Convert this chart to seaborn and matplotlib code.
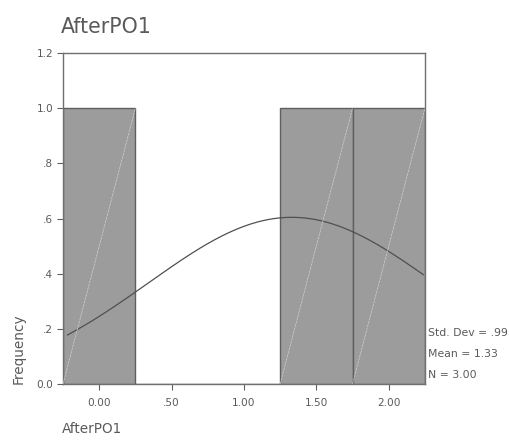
import numpy as np
import pandas as pd
import seaborn as sns
import matplotlib
matplotlib.use("Agg")
import matplotlib.pyplot as plt

# Scores for AfterPO1 (three cases)
values = [0.0, 1.5, 2.0]
bin_edges = [-0.25, 0.25, 0.75, 1.25, 1.75, 2.25]
std_dev = 0.99
mean = 1.33
n_cases = 3.00

y_ticks = [0.0, 0.2, 0.4, 0.6, 0.8, 1.0, 1.2]
y_tick_labels = ["0.0", ".2", ".4", ".6", ".8", "1.0", "1.2"]
x_ticks = [0.0, 0.5, 1.0, 1.5, 2.0]
x_tick_labels = ["0.00", ".50", "1.00", "1.50", "2.00"]

sns.set_theme(style="white")
plt.rcParams["font.family"] = ["DejaVu Sans"]

text_col = "#5a5a5a"
fig = plt.figure(figsize=(5.09, 4.46), dpi=100)
ax = fig.add_axes([0.1238, 0.139, 0.711, 0.742])

df = pd.DataFrame({"AfterPO1": values})
sns.histplot(data=df, x="AfterPO1", bins=bin_edges, stat="count",
             color="#9c9c9c", edgecolor="#5f5f5f", linewidth=1.0,
             alpha=1.0, ax=ax)

# faint diagonal stroke inside each bar
for p in ax.patches:
    x0, y0 = p.get_x(), p.get_y()
    w, h = p.get_width(), p.get_height()
    if h > 0:
        ax.plot([x0, x0 + w], [y0, y0 + h], color="#cfcfcf",
                lw=0.5, ls=(0, (4, 1)), zorder=3)

# normal curve scaled to counts per bin
bw = bin_edges[1] - bin_edges[0]
xs = np.linspace(-0.22, 2.24, 200)
ys = n_cases * bw / (std_dev * np.sqrt(2 * np.pi)) * np.exp(-0.5 * ((xs - mean) / std_dev) ** 2)
sns.lineplot(x=xs, y=ys, color="#505050", lw=0.9, ax=ax)

ax.set_xlim(bin_edges[0], bin_edges[-1])
ax.set_ylim(0, 1.2)
ax.set_yticks(y_ticks)
ax.set_yticklabels(y_tick_labels)
ax.set_xticks(x_ticks)
ax.set_xticklabels(x_tick_labels)
ax.tick_params(axis="both", direction="out", length=4, width=0.8,
               color="#606060", labelsize=7.6, labelcolor=text_col,
               bottom=True, left=True, pad=3)
ax.tick_params(axis="x", pad=6)
for s in ax.spines.values():
    s.set_color("#707070")
    s.set_linewidth(1.0)

ax.set_xlabel("")
ax.set_ylabel("")
fig.text(0.036, 0.139, "Frequency", rotation=90, ha="center", va="bottom",
         fontsize=9.8, color=text_col)
fig.text(0.122, 0.022, "AfterPO1", ha="left", va="bottom",
         fontsize=9.8, color=text_col)
fig.text(0.119, 0.918, "AfterPO1", ha="left", va="bottom",
         fontsize=14.8, color=text_col)

stats = [f"Std. Dev = {std_dev:.2f}".replace("0.", "."),
         f"Mean = {mean:.2f}",
         f"N = {n_cases:.2f}"]
for i, s in enumerate(stats):
    fig.text(0.841, 1 - (333 + 21 * i) / 446, s, ha="left", va="center",
             fontsize=7.8, color=text_col)

fig.savefig("out.png", dpi=100)
